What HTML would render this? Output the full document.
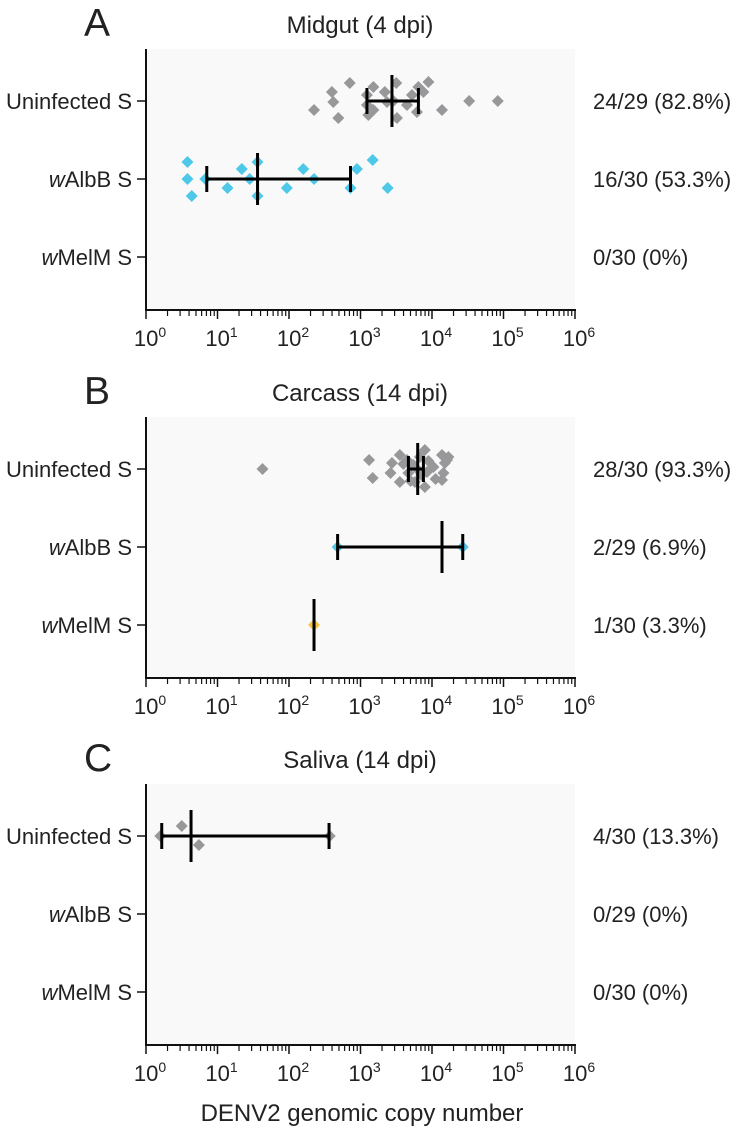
<!DOCTYPE html>
<html><head><meta charset="utf-8">
<style>
html,body{margin:0;padding:0;background:#fff;}
svg{display:block;font-family:"Liberation Sans",Arial,sans-serif;}
</style></head>
<body>
<svg id="chart" width="750" height="1130" viewBox="0 0 750 1130" xmlns="http://www.w3.org/2000/svg"></svg>
<script>
// ---- data ----
const panelLetters = ["A","B","C"];
const panelTitles = ["Midgut (4 dpi)","Carcass (14 dpi)","Saliva (14 dpi)"];
const groupNames = ["Uninfected S","wAlbB S","wMelM S"];
const rates = [
  ["24/29 (82.8%)","16/30 (53.3%)","0/30 (0%)"],
  ["28/30 (93.3%)","2/29 (6.9%)","1/30 (3.3%)"],
  ["4/30 (13.3%)","0/29 (0%)","0/30 (0%)"]
];
const tickExponents = [0,1,2,3,4,5,6];
// log10 values of points
const aUninfLog = [2.35,2.60,2.62,2.69,2.85,3.09,3.09,3.11,3.18,3.18,3.34,3.37,3.46,3.50,3.51,3.65,3.72,3.79,3.81,3.88,3.95,4.14,4.52,4.92];
const aUninfJit = [9,-9,1,17,-18,-6,4,14,-14,9,-9,1,0,-18,17,4,-6,11,-14,-9,-19,9,0,0];
const aAlbLog = [0.58,0.58,0.64,0.83,1.14,1.34,1.45,1.56,1.56,1.97,2.20,2.35,2.86,2.95,3.17,3.38];
const aAlbJit = [-17,0,17,0,9,-10,0,-17,17,9,-10,0,9,-10,-19,9];
const bUninfLog = [1.63,3.12,3.17,3.42,3.44,3.55,3.55,3.60,3.65,3.67,3.70,3.74,3.76,3.79,3.83,3.85,3.90,3.90,3.93,3.95,4.02,4.05,4.14,4.14,4.16,4.18,4.21,4.23];
const bUninfJit = [0,-9,9,4,-6,-14,13,-5,-9,4,12,-4,13,0,-12,6,-19,18,3,-8,-2,10,-14,11,4,-6,-9,-12];
const bAlbLog = [2.68,4.43];
const bAlbJit = [0,0];
const bMelLog = [2.35];
const bMelJit = [0];
const cUninfLog = [0.20,0.50,0.74,2.57];
const cUninfJit = [0,-10,9,0];
// summary: [median, low, high] in log10
const aUninfStat = [3.44,3.09,3.81];
const aAlbStat = [1.56,0.85,2.86];
const bUninfStat = [3.80,3.67,3.88];
const bAlbStat = [4.14,2.68,4.43];
const bMelStat = [2.35,2.35,2.35];
const cUninfStat = [0.63,0.22,2.56];

// ---- layout ----
const NS="http://www.w3.org/2000/svg";
const svg=document.getElementById('chart');
const X0=146, X1=575, DEC=(X1-X0)/6;
const panelTop=[49,417,784];
const PH=261, ROWGAP=78, ROW0=52;
const colors={gray:"#98989b",blue:"#4ec8e8",yellow:"#f4c443"};
function xs(l){return X0+l*DEC;}
function mk(tag,attrs,parent){const e=document.createElementNS(NS,tag);for(const k in attrs)e.setAttribute(k,attrs[k]);(parent||svg).appendChild(e);return e;}

const series=[
  [{pts:aUninfLog,jit:aUninfJit,stat:aUninfStat,c:colors.gray,row:0,caps:true},{pts:aAlbLog,jit:aAlbJit,stat:aAlbStat,c:colors.blue,row:1,caps:true}],
  [{pts:bUninfLog,jit:bUninfJit,stat:bUninfStat,c:colors.gray,row:0,caps:true},{pts:bAlbLog,jit:bAlbJit,stat:bAlbStat,c:colors.blue,row:1,caps:true},{pts:bMelLog,jit:bMelJit,stat:bMelStat,c:colors.yellow,row:2,caps:false}],
  [{pts:cUninfLog,jit:cUninfJit,stat:cUninfStat,c:colors.gray,row:0,caps:true}]
];

panelTop.forEach((top,p)=>{
  const g=mk('g',{});
  
  
  const bottom=top+PH;
  const bg=mk('rect',{x:X0,y:top,width:X1-X0,height:PH,fill:"#f9f9f9"},g);
  
  
  const letter=mk('text',{x:84,y:top-13,'font-size':39,fill:"#222"},g);
  letter.textContent=panelLetters[p];
  
  
  const title=mk('text',{x:360,y:top-16,'font-size':24,fill:"#222",'text-anchor':'middle'},g);
  title.textContent=panelTitles[p];
  
  
  // axes
  const ya=mk('line',{x1:X0,y1:top,x2:X0,y2:bottom+1,stroke:"#111",'stroke-width':2},g);
  
  
  const xa=mk('line',{x1:X0-1,y1:bottom,x2:X1+1,y2:bottom,stroke:"#111",'stroke-width':2},g);
  
  
  tickExponents.forEach(e=>{
    const x=xs(e);
    mk('line',{x1:x,y1:bottom,x2:x,y2:bottom+9,stroke:"#111",'stroke-width':1.5},g);
    if(e<6){for(let m=2;m<=9;m++){const xm=xs(e+Math.log10(m));mk('line',{x1:xm,y1:bottom,x2:xm,y2:bottom+6,stroke:"#111",'stroke-width':1.2},g);}}
    const t=mk('text',{x:x+4,y:bottom+36,'font-size':22,fill:"#222",'text-anchor':'middle'},g);
    
    
    t.innerHTML='10<tspan dy="-9" font-size="14">'+e+'</tspan>';
  });
  groupNames.forEach((n,r)=>{
    const y=top+ROW0+r*ROWGAP;
    mk('line',{x1:X0-9,y1:y,x2:X0,y2:y,stroke:"#111",'stroke-width':1.5},g);
    const t=mk('text',{x:132,y:y+8,'font-size':22,fill:"#222",'text-anchor':'end'},g);
    
    
    if(n.startsWith('w')) t.innerHTML='<tspan font-style="italic">w</tspan>'+n.slice(1); else t.textContent=n;
    const rt=mk('text',{x:593,y:y+8,'font-size':22,fill:"#222"},g);
    rt.textContent=rates[p][r];
    
    
  });
  series[p].forEach(s=>{
    const cy=top+ROW0+s.row*ROWGAP;
    s.pts.forEach((v,i)=>{
      const x=xs(v), y=cy+s.jit[i], d=6;
      const pt=mk('polygon',{points:`${x},${y-d} ${x+d},${y} ${x},${y+d} ${x-d},${y}`,fill:s.c},g);
      
      
    });
    const [med,lo,hi]=s.stat;
    if(s.caps){
      const hl=mk('line',{x1:xs(lo),y1:cy,x2:xs(hi),y2:cy,stroke:"#000",'stroke-width':3},g);
      
      
      [lo,hi].forEach(v=>{mk('line',{x1:xs(v),y1:cy-13,x2:xs(v),y2:cy+13,stroke:"#000",'stroke-width':3},g);});
    }
    const ml=mk('line',{x1:xs(med),y1:cy-26,x2:xs(med),y2:cy+26,stroke:"#000",'stroke-width':3},g);
    
    
  });
});
const xt=mk('text',{x:362,y:1121,'font-size':24,fill:"#222",'text-anchor':'middle'});
xt.textContent="DENV2 genomic copy number";


</script>
</body></html>
